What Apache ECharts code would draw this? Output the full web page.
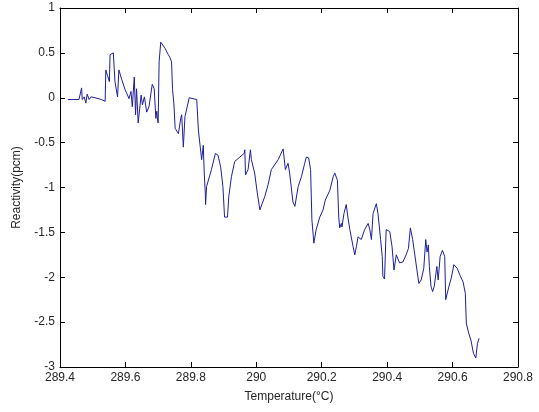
<!DOCTYPE html>
<html>
<head>
<meta charset="utf-8">
<script src="https://cdn.jsdelivr.net/npm/echarts@6/dist/echarts.min.js"></script>
<style>
html,body{margin:0;padding:0;background:#fff;}
#chart{width:539px;height:412px;}
</style>
</head>
<body>
<div id="chart"></div>
<script>
var temperature = [289.424,289.458,289.461,289.466,289.468,289.474,289.479,289.483,289.489,289.495,289.507,289.527,289.538,289.540,289.545,289.551,289.553,289.563,289.568,289.576,289.580,289.589,289.599,289.604,289.611,289.617,289.621,289.627,289.631,289.634,289.639,289.648,289.652,289.658,289.665,289.672,289.682,289.688,289.693,289.696,289.698,289.700,289.703,289.708,289.721,289.731,289.736,289.741,289.744,289.748,289.752,289.762,289.769,289.772,289.777,289.782,289.795,289.818,289.823,289.833,289.838,289.841,289.844,289.845,289.848,289.863,289.875,289.883,289.891,289.898,289.903,289.912,289.916,289.924,289.934,289.950,289.963,289.965,289.967,289.975,289.982,289.985,289.995,290.003,290.011,290.018,290.026,290.036,290.046,290.067,290.082,290.087,290.089,290.097,290.102,290.112,290.118,290.128,290.138,290.148,290.153,290.160,290.166,290.170,290.176,290.183,290.194,290.204,290.211,290.225,290.235,290.240,290.248,290.252,290.255,290.260,290.262,290.268,290.275,290.280,290.286,290.296,290.301,290.306,290.311,290.321,290.331,290.342,290.347,290.352,290.357,290.367,290.372,290.380,290.385,290.387,290.392,290.397,290.408,290.415,290.421,290.428,290.438,290.443,290.448,290.458,290.465,290.471,290.478,290.488,290.497,290.504,290.512,290.518,290.522,290.526,290.529,290.534,290.539,290.544,290.552,290.556,290.562,290.569,290.576,290.579,290.584,290.589,290.596,290.604,290.609,290.614,290.624,290.632,290.639,290.642,290.649,290.656,290.664,290.671,290.676,290.681];
var reactivity = [-0.02,-0.02,-0.04,0.11,-0.02,0.01,-0.06,0.04,-0.02,0.01,0.00,-0.02,-0.04,0.31,0.25,0.18,0.48,0.50,0.18,0.01,0.31,0.20,0.09,0.05,-0.01,0.07,-0.10,0.23,-0.19,0.10,-0.28,0.03,-0.08,0.01,-0.16,-0.10,0.15,0.10,-0.23,-0.15,-0.25,-0.28,0.40,0.62,0.55,0.48,0.45,0.40,0.09,-0.06,-0.34,-0.40,-0.23,-0.19,-0.55,-0.21,0.00,-0.02,-0.36,-0.69,-0.53,-0.85,-1.05,-1.19,-0.99,-0.80,-0.62,-0.64,-0.77,-0.99,-1.33,-1.33,-1.10,-0.88,-0.71,-0.66,-0.62,-0.58,-0.86,-0.80,-0.58,-0.69,-0.84,-1.06,-1.25,-1.18,-1.10,-0.97,-0.80,-0.69,-0.57,-0.57,-0.80,-0.73,-0.84,-1.16,-1.21,-0.99,-0.88,-0.73,-0.66,-0.67,-0.80,-1.36,-1.62,-1.47,-1.33,-1.25,-1.14,-1.03,-0.88,-0.84,-0.92,-1.33,-1.45,-1.40,-1.44,-1.29,-1.19,-1.33,-1.47,-1.66,-1.75,-1.66,-1.55,-1.58,-1.47,-1.40,-1.47,-1.58,-1.29,-1.18,-1.29,-1.58,-1.77,-1.99,-2.02,-1.47,-1.49,-1.66,-1.92,-1.75,-1.84,-1.86,-1.83,-1.75,-1.68,-1.45,-1.58,-1.84,-2.07,-2.03,-1.90,-1.58,-1.72,-1.64,-1.88,-2.10,-2.16,-2.10,-1.88,-2.03,-1.77,-1.70,-1.77,-2.25,-2.25,-2.10,-2.01,-1.86,-1.84,-1.90,-1.99,-2.05,-2.18,-2.51,-2.62,-2.70,-2.85,-2.90,-2.74,-2.68];
var xTicks = [289.4,289.6,289.8,290,290.2,290.4,290.6,290.8];
var yTicks = [-3,-2.5,-2,-1.5,-1,-0.5,0,0.5,1];

var points = temperature.map(function(t,i){return [t, reactivity[i]];});
var chart = echarts.init(document.getElementById('chart'));
var lineC = '#000';
var txt = '#262626';
var fontF = 'Liberation Sans, Arial, sans-serif';
function fmtX(v){ var r = Math.round(v*10)/10; return (r % 1 === 0) ? r.toFixed(0) : r.toFixed(1); }
function fmtY(v){ var r = Math.round(v*10)/10; return String(r); }
chart.setOption({
  animation:false,
  backgroundColor:'#fff',
  grid:{left:60,right:21,top:8,bottom:45,containLabel:false},
  xAxis:[{
    type:'value',min:xTicks[0],max:xTicks[xTicks.length-1],interval:0.2,
    name:'Temperature(°C)',nameLocation:'middle',nameGap:24,
    nameTextStyle:{color:txt,fontSize:12,fontFamily:fontF},
    axisLine:{show:true,onZero:false,lineStyle:{color:lineC,width:1}},
    axisTick:{show:true,inside:true,length:5,lineStyle:{color:lineC}},
    axisLabel:{color:txt,fontSize:12,fontFamily:fontF,margin:5,formatter:fmtX},
    splitLine:{show:false}
  },{
    type:'value',position:'top',min:xTicks[0],max:xTicks[xTicks.length-1],interval:0.2,
    axisLine:{show:true,onZero:false,lineStyle:{color:lineC,width:1}},
    axisTick:{show:true,inside:true,length:5,lineStyle:{color:lineC}},
    axisLabel:{show:false},splitLine:{show:false}
  }],
  yAxis:[{
    type:'value',min:yTicks[0],max:yTicks[yTicks.length-1],interval:0.5,
    name:'Reactivity(pcm)',nameLocation:'middle',nameGap:37,nameRotate:90,
    nameTextStyle:{color:txt,fontSize:12,fontFamily:fontF},
    axisLine:{show:true,onZero:false,lineStyle:{color:lineC,width:1}},
    axisTick:{show:true,inside:true,length:5,lineStyle:{color:lineC}},
    axisLabel:{color:txt,fontSize:12,fontFamily:fontF,margin:5,formatter:fmtY},
    splitLine:{show:false}
  },{
    type:'value',position:'right',min:yTicks[0],max:yTicks[yTicks.length-1],interval:0.5,
    axisLine:{show:true,onZero:false,lineStyle:{color:lineC,width:1}},
    axisTick:{show:true,inside:true,length:5,lineStyle:{color:lineC}},
    axisLabel:{show:false},splitLine:{show:false}
  }],
  series:[{
    type:'line',data:points,showSymbol:false,symbol:'none',
    lineStyle:{color:'#1f1f9a',width:1},
    xAxisIndex:0,yAxisIndex:0
  }]
});
</script>
</body>
</html>
